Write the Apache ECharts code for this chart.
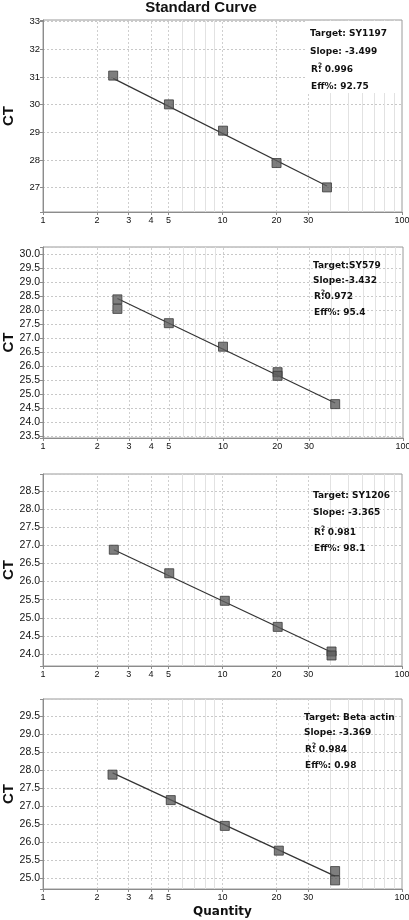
<!DOCTYPE html>
<html><head><meta charset="utf-8">
<script src="https://cdn.jsdelivr.net/npm/echarts@6/dist/echarts.min.js"></script>
<style>html,body{margin:0;padding:0;background:#fff}#c{width:409px;height:920px}</style>
</head><body><div id="c"></div>
<script>
// ---- data ----
const xTickLabels = [1, 2, 3, 4, 5, 10, 20, 30, 100];
const xGridLabeled = [2, 3, 4, 5, 10, 20, 30];
const xGridMinor = [6, 7, 8, 9, 40, 50, 60, 70, 80, 90];

const qty1 = [2.46, 5.03, 10.07, 20.0, 38.2];
const ct1  = [31.05, 30.01, 29.06, 27.89, 27.01];
const fitQ1 = [2.46, 38.2];
const fitCt1 = [30.95, 27.06];

const qty2 = [2.59, 2.59, 5.0, 10.0, 20.1, 20.1, 42.0];
const ct2  = [28.39, 28.05, 27.54, 26.70, 25.79, 25.66, 24.65];
const fitQ2 = [2.59, 42.0];
const fitCt2 = [28.42, 24.69];

const qty3 = [2.48, 5.05, 10.3, 20.3, 40.5, 40.5];
const ct3  = [26.88, 26.23, 25.47, 24.75, 24.07, 23.96];
const fitQ3 = [2.48, 40.5];
const fitCt3 = [26.88, 24.05];

const qty4 = [2.44, 5.15, 10.3, 20.6, 42.4, 42.4];
const ct4  = [27.88, 27.17, 26.45, 25.76, 25.19, 24.93];
const fitQ4 = [2.44, 42.4];
const fitCt4 = [27.93, 25.05];

const yRange = [[26.12, 33.06], [23.44, 30.26], [23.67, 28.97], [24.69, 29.99]];
const yStep = [1, 0.5, 0.5, 0.5];

const targets = ['Target: SY1197', 'Target:SY579', 'Target: SY1206', 'Target: Beta actin'];
const slopes = ['Slope: -3.499', 'Slope:-3.432', 'Slope: -3.365', 'Slope: -3.369'];
const r2s = ['R: 0.996', 'R:0.972', 'R: 0.981', 'R: 0.984'];
const effs = ['Eff%: 92.75', 'Eff%: 95.4', 'Eff%: 98.1', 'Eff%: 0.98'];

// ---- layout ----
const grids = [
  {left: 43, right: 7, top: 20, height: 192},
  {left: 43, right: 6, top: 247, height: 191},
  {left: 43, right: 7, top: 474, height: 192},
  {left: 43, right: 7, top: 699, height: 190}
];
const annot = [
  {x: 310, ys: [34, 52, 70, 87]},
  {x: 313, ys: [266, 281, 297, 313]},
  {x: 313, ys: [496, 513, 533, 549]},
  {x: 304, ys: [718, 733, 750, 766]}
];

const pts = [[qty1, ct1], [qty2, ct2], [qty3, ct3], [qty4, ct4]];
const fits = [[fitQ1, fitCt1], [fitQ2, fitCt2], [fitQ3, fitCt3], [fitQ4, fitCt4]];

const xAxes = [], yAxes = [], series = [];
for (let i = 0; i < 4; i++) {
  xAxes.push({
    type: 'log', logBase: 10, gridIndex: i, min: 1, max: 100,
    axisLine: {lineStyle: {color: '#8c8c8c', width: 1}},
    axisTick: {show: true, length: 3, customValues: xTickLabels, lineStyle: {color: '#8c8c8c'}},
    axisLabel: {customValues: xTickLabels, fontSize: 9, color: '#111', margin: 4,
      fontFamily: 'Liberation Sans', showMinLabel: true, showMaxLabel: true},
    splitLine: {show: false},
    name: i === 3 ? 'Quantity' : '', nameLocation: 'middle', nameGap: 17, nameMoveOverlap: false,
    nameTextStyle: {fontSize: 12, fontWeight: 'bold', color: '#111', fontFamily: 'DejaVu Sans'}
  });
  const step = yStep[i];
  yAxes.push({
    type: 'value', gridIndex: i, min: yRange[i][0], max: yRange[i][1],
    minInterval: step, maxInterval: step, splitNumber: 6,
    axisLine: {show: true, lineStyle: {color: '#8c8c8c', width: 1}},
    axisTick: {show: true, length: 3, lineStyle: {color: '#8c8c8c'}},
    axisLabel: {fontSize: i === 0 ? 9.5 : 10.5, color: '#111', margin: 3, fontFamily: 'Liberation Sans',
      formatter: v => Math.abs(v / step - Math.round(v / step)) < 1e-6 ? v.toFixed(step < 1 ? 1 : 0) : ''},
    splitLine: {show: true, lineStyle: {color: '#c8c8c8', type: [2, 2], width: 1}},
    name: 'CT', nameLocation: 'middle', nameGap: 27, nameMoveOverlap: false,
    nameTextStyle: {fontSize: 15, fontWeight: 'bold', color: '#111', fontFamily: 'Liberation Sans'}
  });
  const vLines = xGridLabeled.map(v => ({xAxis: v, lineStyle: {color: '#cfcfcf', type: [2, 2], width: 1}}))
    .concat(xGridMinor.map(v => ({xAxis: v, lineStyle: {color: '#e2e2e2', type: 'solid', width: 1}})));
  series.push({
    type: 'line', xAxisIndex: i, yAxisIndex: i, z: 3,
    data: fits[i][0].map((q, k) => [q, fits[i][1][k]]),
    symbol: 'none', lineStyle: {color: '#333', width: 1.2}, silent: true,
    markLine: {silent: true, symbol: 'none', label: {show: false}, animation: false, z: 1, data: vLines}
  });
  series.push({
    type: 'scatter', xAxisIndex: i, yAxisIndex: i, z: 4,
    data: pts[i][0].map((q, k) => [q, pts[i][1][k]]),
    symbol: 'rect', symbolSize: 9,
    itemStyle: {color: '#5e5e5e', borderColor: '#3a3a3a', borderWidth: 1}
  });
}

const txtStyle = {fontSize: 9, fontWeight: 'bold', fill: '#111', fontFamily: 'DejaVu Sans'};
const graphic = [
  {type: 'text', x: 201, y: 8, z: 10, style: {text: 'Standard Curve', fontSize: 15, fontWeight: 'bold',
    fill: '#111', fontFamily: 'Liberation Sans', align: 'center', verticalAlign: 'middle'}},
  {type: 'rect', shape: {x: 305, y: 21, width: 96, height: 72}, style: {fill: '#fff'}, z: 5}
];
for (let i = 0; i < 4; i++) {
  const a = annot[i];
  const lines = [targets[i], slopes[i], r2s[i], effs[i]];
  lines.forEach((t, k) => {
    graphic.push({type: 'text', x: a.x + (k >= 2 ? 1 : 0), y: a.ys[k], z: 10,
      style: Object.assign({}, txtStyle, {text: t, verticalAlign: 'middle'})});
  });
  graphic.push({type: 'text', x: a.x + 8, y: a.ys[2] - 5, z: 10,
    style: Object.assign({}, txtStyle, {text: '2', fontSize: 6, verticalAlign: 'middle'})});
}

const chart = echarts.init(document.getElementById('c'), null, {renderer: 'canvas'});
chart.setOption({
  animation: false,
  backgroundColor: '#fff',
  grid: grids.map(g => Object.assign({show: true, borderColor: '#9a9a9a', borderWidth: 1,
    backgroundColor: 'transparent', containLabel: false, outerBoundsMode: 'none'}, g)),
  xAxis: xAxes,
  yAxis: yAxes,
  series: series,
  graphic: graphic
});
</script></body></html>
